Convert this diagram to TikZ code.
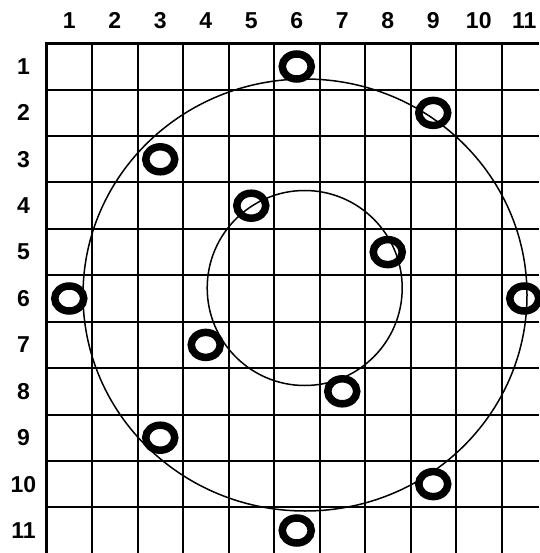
\documentclass[tikz,border=0pt]{standalone}
\usepackage{fontspec}
\setmainfont{Liberation Sans}
\usetikzlibrary{shapes.geometric}

\begin{document}
\begin{tikzpicture}[
  x=1pt, y=-1pt,
  gridline/.style={draw, line width=2pt},
  frameline/.style={draw, line width=3.5pt},
  orbit/.style={draw, line width=1.5pt},
  ring/.style={ellipse, draw, line width=7.5pt, minimum width=29pt,
               minimum height=25pt, inner sep=0pt},
  numlabel/.style={font=\bfseries\fontsize{23}{23}\selectfont, inner sep=0pt},
]
  \useasboundingbox (0,0) rectangle (539,553);

  % grid
  \foreach \i in {1,...,10}
    \draw[gridline] ({46.5+45.5*\i},43.3) -- ({46.5+45.5*\i},553);
  \foreach \j in {1,...,10}
    \draw[gridline] (46.5,{43.3+46.4*\j}) -- (539,{43.3+46.4*\j});
  \draw[frameline] (46.5,553) -- (46.5,43.3) -- (539,43.3);

  % column and row numbers
  \foreach \i in {1,...,11} {
    \node[numlabel] (col\i) at ({46.5+45.5*\i-22.75},20.5) {\i};
    \node[numlabel] (row\i) at (23.5,{43.3+46.4*\i-23.2}) {\i};
  }

  % orbits
  \draw[orbit] (305,295) ellipse [x radius=222pt, y radius=216pt];
  \draw[orbit] (304.7,288) circle [radius=97.5pt];

  % rings
  \foreach \c/\r [count=\k] in {6/1, 9/2, 3/3, 5/4, 8/5, 1/6, 11/6, 4/7, 7/8, 3/9, 9/10, 6/11}
    \node[ring] (ring\k) at ({46.5+45.5*\c-22.75},{43.3+46.4*\r-23.2}) {};
\end{tikzpicture}
\end{document}
